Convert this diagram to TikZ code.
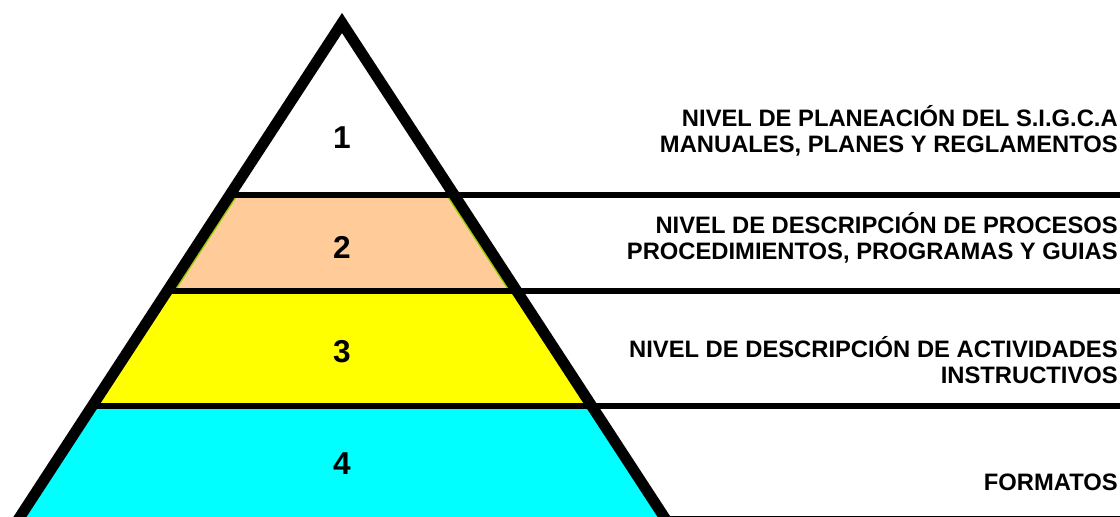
\documentclass[tikz,border=0pt]{standalone}
\usepackage{fontspec}
\setmainfont{Liberation Sans}

\definecolor{peach}{HTML}{FFCC99}
\definecolor{amarillo}{HTML}{FFFF00}
\definecolor{celeste}{HTML}{00FFFF}
\definecolor{edgegreen}{HTML}{99CC00}

\tikzset{
  nivel/.style={anchor=base east, inner sep=0pt, font=\fontsize{16.9}{18}\selectfont\bfseries},
  numero/.style={anchor=center, inner sep=0pt, font=\fontsize{22.5}{24}\selectfont\bfseries},
  raya/.style={line width=4.6pt},
  borde/.style={line width=7.8pt, line join=miter}
}

\begin{document}
\begin{tikzpicture}[x=0.025cm, y=-0.025cm]
		\useasboundingbox (0,0) rectangle (1120,517);
		\fill[peach] (229.9,195) -- (454.1,195) -- (516.7,291) -- (167.3,291) -- cycle;
		\fill[amarillo] (167.3,291) -- (516.7,291) -- (591.7,406) -- (92.3,406) -- cycle;
		\fill[celeste] (92.3,406) -- (591.7,406) -- (672.6,530) -- (11.4,530) -- cycle;
		\draw[edgegreen, line width=1.1pt] (237.2,195) -- (174.6,291);
		\draw[edgegreen, line width=1.1pt] (446.8,195) -- (509.4,291);
		\draw[raya] (229.9,195) -- (1120,195);
		\draw[raya] (167.3,291) -- (1120,291);
		\draw[raya] (92.3,406) -- (1120,406);
		\draw[raya] (664,519.5) -- (1120,519.5);
		\draw[borde] (11.4,530) -- (342,23) -- (672.6,530);
		\node[numero] (num1) at (342,138) {1};
		\node[numero] (num2) at (342,247) {2};
		\node[numero] (num3) at (342,352) {3};
		\node[numero] (num4) at (342,464) {4};
		\node[nivel] (nivel1a) at (1118,126.5) {NIVEL DE PLANEACIÓN DEL S.I.G.C.A};
		\node[nivel] (nivel1b) at (1118,153) {MANUALES, PLANES Y REGLAMENTOS};
		\node[nivel] (nivel2a) at (1118,233.5) {NIVEL DE DESCRIPCIÓN DE PROCESOS};
		\node[nivel] (nivel2b) at (1118,259.5) {PROCEDIMIENTOS, PROGRAMAS Y GUIAS};
		\node[nivel] (nivel3a) at (1118,357.5) {NIVEL DE DESCRIPCIÓN DE ACTIVIDADES};
		\node[nivel] (nivel3b) at (1118,383.5) {INSTRUCTIVOS};
		\node[nivel] (nivel4) at (1118,490.5) {FORMATOS};
	\end{tikzpicture}
\end{document}
